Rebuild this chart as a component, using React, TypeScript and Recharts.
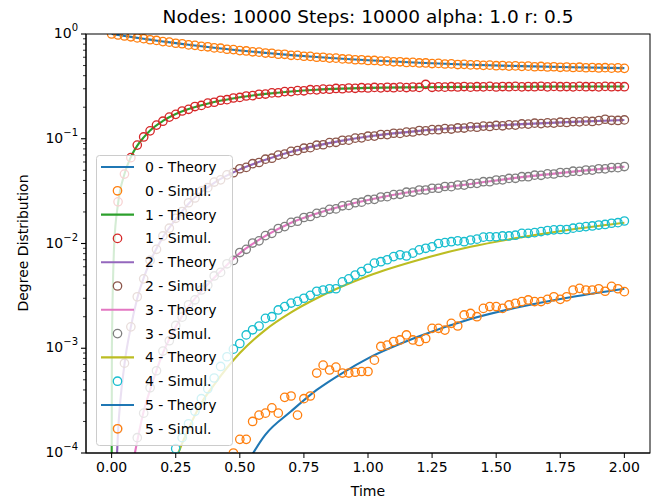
import React from 'react'
import { ComposedChart, Line, Scatter, XAxis, YAxis } from 'recharts'

const TITLE = 'Nodes: 10000 Steps: 10000 alpha: 1.0 r: 0.5'

// theory curves, sampled at these times
const THEORY_T = [0, 0.00005, 0.001, 0.01, 0.025, 0.05, 0.075, 0.1, 0.125, 0.15, 0.2, 0.25, 0.3, 0.35, 0.4, 0.5, 0.6, 0.7, 0.8, 0.9, 1.0, 1.2, 1.4, 1.6, 1.8, 2.0]
const THEORY_0 = [1.0, 1.0, 0.999, 0.991, 0.978, 0.958, 0.938, 0.919, 0.9, 0.883, 0.849, 0.819, 0.79, 0.764, 0.74, 0.697, 0.661, 0.629, 0.603, 0.58, 0.561, 0.531, 0.509, 0.493, 0.481, 0.472]
const THEORY_1 = [null, 0.00005, 0.001, 0.0098, 0.024, 0.046, 0.067, 0.086, 0.103, 0.12, 0.148, 0.172, 0.192, 0.209, 0.224, 0.249, 0.268, 0.283, 0.294, 0.301, 0.306, 0.31, 0.313, 0.314, 0.315, 0.315]
const THEORY_2 = [null, null, null, 0.000025, 0.00016, 0.0007, 0.0016, 0.003, 0.0047, 0.0067, 0.0115, 0.017, 0.024, 0.031, 0.038, 0.051, 0.063, 0.075, 0.086, 0.096, 0.105, 0.119, 0.129, 0.138, 0.145, 0.151]
const THEORY_3 = [null, null, null, null, null, 0.00002, 0.00006, 0.00013, 0.00025, 0.0004, 0.0009, 0.0016, 0.0025, 0.0035, 0.0047, 0.0081, 0.0118, 0.0158, 0.0193, 0.0228, 0.026, 0.032, 0.037, 0.043, 0.0485, 0.054]
const THEORY_4 = [null, null, null, null, null, null, null, null, null, null, 0.00003, 0.000085, 0.00017, 0.0003, 0.00045, 0.0009, 0.0015, 0.0022, 0.003, 0.0039, 0.0049, 0.007, 0.0093, 0.0115, 0.0137, 0.0158]
const THEORY_5 = [null, null, null, null, null, null, null, null, null, null, null, null, null, null, 0.00002, 0.00006, 0.00015, 0.00025, 0.0004, 0.00058, 0.0008, 0.0013, 0.0019, 0.0025, 0.0031, 0.0037]

// simulation samples
const SIM_T = [
  0, 0.025, 0.05, 0.075, 0.1, 0.125, 0.15, 0.175, 0.2, 0.225, 0.25, 0.275, 0.3, 0.325, 0.35, 0.375, 0.4, 0.425, 0.45, 0.475,
  0.5, 0.525, 0.55, 0.575, 0.6, 0.625, 0.65, 0.675, 0.7, 0.725, 0.75, 0.775, 0.8, 0.825, 0.85, 0.875, 0.9, 0.925, 0.95, 0.975,
  1.0, 1.025, 1.05, 1.075, 1.1, 1.125, 1.15, 1.175, 1.2, 1.225, 1.25, 1.275, 1.3, 1.325, 1.35, 1.375, 1.4, 1.425, 1.45, 1.475,
  1.5, 1.525, 1.55, 1.575, 1.6, 1.625, 1.65, 1.675, 1.7, 1.725, 1.75, 1.775, 1.8, 1.825, 1.85, 1.875, 1.9, 1.925, 1.95, 1.975, 2.0,
]
const SIM_0 = [
  1.0, 0.979, 0.957, 0.94, 0.917, 0.902, 0.881, 0.868, 0.846, 0.836, 0.816, 0.807, 0.787, 0.779, 0.761, 0.755, 0.737, 0.732, 0.715, 0.71,
  0.694, 0.689, 0.676, 0.671, 0.658, 0.655, 0.641, 0.64, 0.626, 0.625, 0.613, 0.612, 0.6, 0.6, 0.589, 0.588, 0.578, 0.577, 0.568, 0.568,
  0.559, 0.559, 0.551, 0.551, 0.543, 0.543, 0.535, 0.536, 0.529, 0.529, 0.522, 0.524, 0.517, 0.518, 0.511, 0.513, 0.507, 0.508, 0.502, 0.504,
  0.498, 0.5, 0.494, 0.496, 0.491, 0.493, 0.487, 0.49, 0.484, 0.487, 0.481, 0.484, 0.479, 0.482, 0.476, 0.479, 0.474, 0.477, 0.472, 0.475, 0.47,
]
const SIM_1 = [
  null, 0.025, 0.046, 0.066, 0.087, 0.104, 0.119, 0.135, 0.147, 0.161, 0.171, 0.184, 0.191, 0.203, 0.208, 0.219, 0.223, 0.233, 0.236, 0.245,
  0.248, 0.256, 0.258, 0.266, 0.267, 0.274, 0.275, 0.282, 0.282, 0.288, 0.287, 0.294, 0.293, 0.298, 0.297, 0.302, 0.3, 0.305, 0.303, 0.307,
  0.305, 0.309, 0.306, 0.31, 0.307, 0.311, 0.308, 0.312, 0.309, 0.33, 0.31, 0.313, 0.311, 0.314, 0.312, 0.315, 0.311, 0.314, 0.313, 0.316,
  0.312, 0.315, 0.314, 0.316, 0.313, 0.315, 0.314, 0.317, 0.313, 0.316, 0.314, 0.315, 0.313, 0.316, 0.314, 0.315, 0.313, 0.316, 0.314, 0.315, 0.314,
]
const SIM_2 = [
  null, 0.00017, 0.00072, 0.0016, 0.0031, 0.0046, 0.0069, 0.0088, 0.0118, 0.014, 0.0174, 0.0202, 0.0245, 0.0272, 0.0316, 0.0341, 0.0386, 0.0405, 0.0452, 0.0474,
  0.0517, 0.0533, 0.0578, 0.0593, 0.0638, 0.0652, 0.0698, 0.0713, 0.0757, 0.0771, 0.0812, 0.0822, 0.0868, 0.0876, 0.0918, 0.0925, 0.0968, 0.097, 0.1013, 0.102,
  0.1058, 0.106, 0.1098, 0.1095, 0.1128, 0.1125, 0.1158, 0.116, 0.1198, 0.119, 0.1222, 0.122, 0.1248, 0.1238, 0.1268, 0.1265, 0.1298, 0.1288, 0.132, 0.131,
  0.134, 0.133, 0.1358, 0.135, 0.1385, 0.138, 0.1408, 0.1395, 0.1418, 0.141, 0.1438, 0.143, 0.1458, 0.145, 0.1472, 0.1462, 0.1488, 0.1535, 0.15, 0.1495, 0.1512,
]
const SIM_3 = [
  null, null, null, 0.00006, 0.00014, 0.00024, 0.00042, 0.00061, 0.00094, 0.00118, 0.00165, 0.00198, 0.0026, 0.0029, 0.0036, 0.004, 0.0049, 0.0053, 0.0064, 0.0069,
  0.0082, 0.0088, 0.0101, 0.0106, 0.0119, 0.0125, 0.0139, 0.0145, 0.0159, 0.0163, 0.0177, 0.0181, 0.0194, 0.0198, 0.0212, 0.0214, 0.0229, 0.0231, 0.0245, 0.0248,
  0.0262, 0.0264, 0.0278, 0.028, 0.0293, 0.0295, 0.0309, 0.031, 0.0324, 0.0324, 0.0337, 0.0337, 0.035, 0.0349, 0.0362, 0.0361, 0.0374, 0.0375, 0.0389, 0.0389,
  0.0404, 0.0405, 0.0418, 0.0419, 0.0434, 0.0434, 0.0449, 0.0448, 0.0462, 0.0461, 0.0476, 0.0475, 0.049, 0.0488, 0.0503, 0.0502, 0.0517, 0.0516, 0.0531, 0.053, 0.0543,
]
const SIM_4 = [
  null, null, null, null, null, null, null, null, null, null, 0.00011, 0.00014, 0.00019, 0.00025, 0.00033, 0.00041, 0.00052, 0.00067, 0.00083, 0.00098,
  0.00111, 0.00134, 0.0015, 0.00163, 0.00193, 0.002, 0.00232, 0.0025, 0.0027, 0.0028, 0.003, 0.0032, 0.0035, 0.0036, 0.0037, 0.0037, 0.0043, 0.0046, 0.005, 0.0054,
  0.0058, 0.0065, 0.0067, 0.007, 0.0075, 0.0078, 0.0076, 0.0081, 0.0087, 0.009, 0.0093, 0.01, 0.0102, 0.0104, 0.0106, 0.0104, 0.0108, 0.011, 0.0115, 0.0116,
  0.0116, 0.0118, 0.0118, 0.012, 0.0125, 0.0125, 0.0127, 0.013, 0.0133, 0.0135, 0.0136, 0.0136, 0.014, 0.0143, 0.0145, 0.0147, 0.015, 0.0152, 0.0156, 0.0158, 0.0164,
]
const SIM_5 = [
  null, null, null, null, null, null, null, null, null, null, null, null, null, null, null, null, null, null, 0.00009, 0.0001,
  0.000135, 0.000135, 0.0002, 0.00023, 0.00024, 0.00027, 0.00024, 0.00034, 0.00035, 0.00023, 0.00033, 0.00035, 0.00058, 0.00069, 0.00062, 0.00066, 0.00058, 0.00058, 0.00059, 0.0006,
  0.0006, 0.00077, 0.00104, 0.00107, 0.00116, 0.0012, 0.00134, 0.0012, 0.00116, 0.00124, 0.00155, 0.00155, 0.00149, 0.00173, 0.00163, 0.00208, 0.00215, 0.002, 0.0024, 0.0025,
  0.0025, 0.0024, 0.00259, 0.00269, 0.00279, 0.00289, 0.00279, 0.00279, 0.00293, 0.0031, 0.00293, 0.0031, 0.0036, 0.00373, 0.0036, 0.0036, 0.0037, 0.0035, 0.0039, 0.0037, 0.00347,
]

const X_TICKS = [0, 0.25, 0.5, 0.75, 1.0, 1.25, 1.5, 1.75, 2.0]
const Y_TICKS = [
  0.0001, 0.0002, 0.0003, 0.0004, 0.0005, 0.0006, 0.0007, 0.0008, 0.0009,
  0.001, 0.002, 0.003, 0.004, 0.005, 0.006, 0.007, 0.008, 0.009,
  0.01, 0.02, 0.03, 0.04, 0.05, 0.06, 0.07, 0.08, 0.09,
  0.1, 0.2, 0.3, 0.4, 0.5, 0.6, 0.7, 0.8, 0.9, 1,
]

const FONT = 'DejaVu Sans'
const PLOT = { left: 86, top: 34, width: 564, height: 419 }

const toPoints = (ts: number[], vs: (number | null)[]) =>
  ts.map((t, i) => ({ t, v: vs[i] })).filter(p => p.v != null)

const SERIES = [
  { k: 0, theory: THEORY_0, sim: SIM_0, lineColor: '#1f77b4', dotColor: '#ff7f0e' },
  { k: 1, theory: THEORY_1, sim: SIM_1, lineColor: '#2ca02c', dotColor: '#d62728' },
  { k: 2, theory: THEORY_2, sim: SIM_2, lineColor: '#9467bd', dotColor: '#8c564b' },
  { k: 3, theory: THEORY_3, sim: SIM_3, lineColor: '#e377c2', dotColor: '#7f7f7f' },
  { k: 4, theory: THEORY_4, sim: SIM_4, lineColor: '#bcbd22', dotColor: '#17becf' },
  { k: 5, theory: THEORY_5, sim: SIM_5, lineColor: '#1f77b4', dotColor: '#ff7f0e' },
]

const ring = (color: string) => (props: any) =>
  <circle cx={props.cx} cy={props.cy} r={4.2} fill="none" stroke={color} strokeWidth={1.3} />

const YTick = (props: any) => {
  const { x, y, payload } = props
  const lg = Math.log10(payload.value)
  const exp = Math.round(lg)
  const major = Math.abs(lg - exp) < 1e-6
  return (
    <g>
      <line x1={x - (major ? 5 : 3)} x2={x} y1={y} y2={y} stroke="#000" strokeWidth={major ? 1.1 : 0.8} />
      {major && (
        <text x={x - 8} y={y + 4} textAnchor="end" fontSize={14} fontFamily={FONT} fill="#000">
          10<tspan dy={-7} fontSize={10}>{exp === 0 ? '0' : '\u2212' + -exp}</tspan>
        </text>
      )}
    </g>
  )
}

const LegendBox = () => {
  const top = 167
  const step = 23.8
  const rows = SERIES.flatMap(s => [
    { label: `${s.k} - Theory`, color: s.lineColor, kind: 'line' },
    { label: `${s.k} - Simul.`, color: s.dotColor, kind: 'dot' },
  ])
  return (
    <g>
      <rect x={96.5} y={155.5} width={136} height={290} rx={3} fill="rgba(255,255,255,0.8)" stroke="#cccccc" />
      {rows.map((r, j) => {
        const y = top + step * j
        return (
          <g key={j}>
            {r.kind === 'line'
              ? <line x1={101} x2={134} y1={y} y2={y} stroke={r.color} strokeWidth={2.1} />
              : <circle cx={117.5} cy={y} r={4.2} fill="none" stroke={r.color} strokeWidth={1.3} />}
            <text x={145} y={y + 5} fontSize={14} fontFamily={FONT} fill="#000">{r.label}</text>
          </g>
        )
      })}
    </g>
  )
}

export default function App() {
  return (
    <div style={{ position: 'absolute', left: 0, top: 0, width: 667, height: 501, background: '#fff', fontFamily: FONT }}>
      <ComposedChart width={667} height={501} margin={{ top: 34, right: 17, bottom: 8, left: 8 }}>
        <XAxis
          dataKey="t"
          type="number"
          domain={[-0.1, 2.1]}
          ticks={X_TICKS}
          interval={0}
          allowDataOverflow
          tickFormatter={(v: number) => v.toFixed(2)}
          stroke="#000"
          tick={{ fill: '#000', fontSize: 14, fontFamily: FONT }}
          tickSize={5}
          tickMargin={4}
          height={40}
        />
        <YAxis
          dataKey="v"
          type="number"
          scale="log"
          domain={[0.0001, 1]}
          allowDataOverflow
          ticks={Y_TICKS}
          interval={0}
          tick={<YTick />}
          tickLine={false}
          tickSize={0}
          tickMargin={0}
          width={78}
          stroke="#000"
        />
        {SERIES.flatMap(s => [
          <Line
            key={`l${s.k}`}
            data={toPoints(THEORY_T, s.theory)}
            dataKey="v"
            type="monotone"
            stroke={s.lineColor}
            strokeWidth={2.1}
            dot={false}
            isAnimationActive={false}
          />,
          <Scatter
            key={`s${s.k}`}
            data={toPoints(SIM_T, s.sim)}
            dataKey="v"
            shape={ring(s.dotColor)}
            isAnimationActive={false}
          />,
        ])}
      </ComposedChart>
      <svg width={667} height={501} style={{ position: 'absolute', left: 0, top: 0, pointerEvents: 'none' }}>
        <rect x={PLOT.left} y={PLOT.top} width={PLOT.width} height={PLOT.height} fill="none" stroke="#000" strokeWidth={1} />
        <text x={368} y={23} textAnchor="middle" fontSize={18.5} fontFamily={FONT} fill="#000">{TITLE}</text>
        <text x={368} y={496} textAnchor="middle" fontSize={14} fontFamily={FONT} fill="#000">Time</text>
        <text transform="translate(28,243) rotate(-90)" textAnchor="middle" fontSize={14} fontFamily={FONT} fill="#000">Degree Distribution</text>
        <LegendBox />
      </svg>
    </div>
  )
}
